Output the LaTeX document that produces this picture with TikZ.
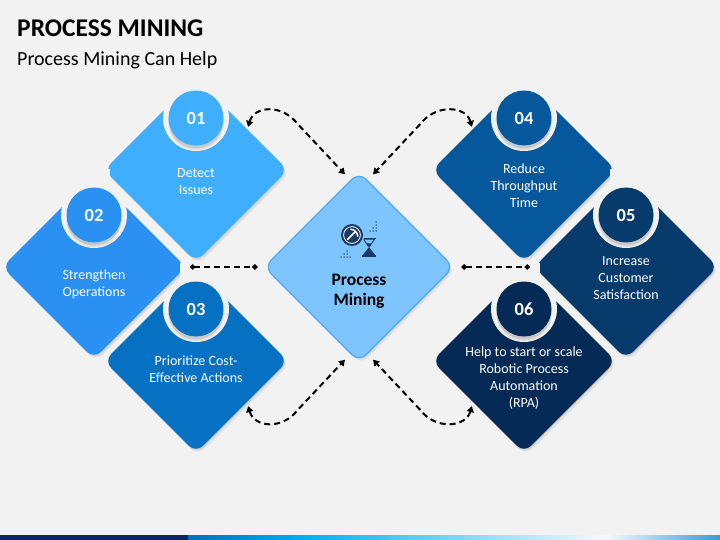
\documentclass[tikz,border=0pt]{standalone}
\usepackage{fontspec}
\setmainfont{Carlito}
\usetikzlibrary{shapes.geometric,arrows.meta,calc,shadows}
\definecolor{bg}{HTML}{F2F2F2}
\definecolor{cA}{RGB}{63,174,253}
\definecolor{cB}{RGB}{42,145,242}
\definecolor{cC}{RGB}{6,113,195}
\definecolor{cD}{RGB}{6,88,157}
\definecolor{cE}{RGB}{6,59,108}
\definecolor{cF}{RGB}{4,42,85}
\definecolor{cfill}{HTML}{7EC4FF}
\definecolor{cborder}{HTML}{4FABF3}
\definecolor{icon}{HTML}{183A63}
\definecolor{barnavy}{HTML}{0A2463}
\definecolor{barA}{HTML}{0070C0}
\definecolor{barB}{HTML}{00B0F0}
\definecolor{barC}{HTML}{F4FAFE}
\definecolor{barD}{HTML}{3A9AD9}
\tikzset{
  softshadow/.style={drop shadow={shadow xshift=1pt, shadow yshift=-1.5pt, opacity=0.18},
                     drop shadow={shadow xshift=2pt, shadow yshift=-3pt, opacity=0.12}},
  dia/.style={diamond, minimum size=184pt, inner sep=0pt, rounded corners=10pt, softshadow},
  notch/.style={circle, minimum size=66pt, inner sep=0pt, fill=bg},
  numc/.style={circle, minimum size=55pt, inner sep=0pt, text=white,
    font=\bfseries\fontsize{18.5}{18}\selectfont,
    drop shadow={shadow xshift=0pt, shadow yshift=-3pt, opacity=0.25},
    drop shadow={shadow xshift=0pt, shadow yshift=-5pt, opacity=0.15}},
  txt/.style={align=center, text=white, inner sep=0pt, font=\fontsize{14}{17}\selectfont},
  conn/.style={line width=2pt, dash pattern=on 6pt off 4pt, black},
  tipA/.style={{Triangle[length=6pt,width=7pt]}-{Triangle[length=6pt,width=7pt]}},
  tipD/.style={{Circle[length=5pt]}-{Circle[length=5pt]}}
}
\begin{document}
\begin{tikzpicture}[x=1pt,y=-1pt]
\useasboundingbox (0,0) rectangle (720,540);
\fill[bg] (0,0) rectangle (720,540);

% diamonds
\node[dia, fill=cA] (d1) at (196,170) {};
\node[dia, fill=cB] (d2) at (94,267) {};
\node[dia, fill=cC] (d3) at (196,361) {};
\node[dia, fill=cD] (d4) at (524,170) {};
\node[dia, fill=cE] (d5) at (626,267) {};
\node[dia, fill=cF] (d6) at (524,361) {};
\node[diamond, minimum size=190pt, inner sep=0pt, rounded corners=10pt, fill=cfill, draw=cborder, line width=1.3pt,
  softshadow] (c) at (359,267) {};

% notches and number circles
\foreach \n/\x/\y/\col in {1/196/118/cA, 2/94/215/cB, 3/196/309/cC, 4/524/118/cD, 5/626/215/cE, 6/524/309/cF}{
  \fill[bg] (\x-16,\y-46) rectangle (\x+16,\y-24);
  \node[notch] (k\n) at (\x,\y) {};
  \node[numc, fill=\col] (n\n) at (\x,\y) {0\n};
}

% title
\node[anchor=base west, inner sep=0pt, font=\bfseries\fontsize{25.5}{28}\selectfont] (title) at (17,37) {PROCESS MINING};
\node[anchor=base west, inner sep=0pt, font=\fontsize{20}{24}\selectfont] (sub) at (17,66) {Process Mining Can Help};

% texts
\node[txt] (t1) at (196,182) {Detect\\Issues};
\node[txt] (t2) at (94,284) {Strengthen\\Operations};
\node[txt] (t3) at (196,369) {Prioritize Cost-\\Effective Actions};
\node[txt] (t4) at (524,186) {Reduce\\Throughput\\Time};
\node[txt] (t5) at (626,278) {Increase\\Customer\\Satisfaction};
\node[txt] (t6) at (524,378) {Help to start or scale\\Robotic Process\\Automation\\(RPA)};
\node[align=center, inner sep=0pt, font=\bfseries\fontsize{17.5}{20}\selectfont] (ct) at (359,291) {Process\\Mining};

% icon
\begin{scope}[shift={(369,247)}]
  \fill[icon] (-7,-9.5) rectangle (7,-7.8);
  \fill[icon] (-7,7.8) rectangle (7,9.5);
  \draw[icon, line width=0.9pt, line join=round] (-5.5,-7.8) -- (5.5,-7.8) -- (0.8,-0.8) -- (-0.8,-0.8) -- cycle;
  \fill[icon] (-2.6,-3.6) -- (2.6,-3.6) -- (0,0) -- cycle;
  \fill[icon] (0,0) -- (6,7.8) -- (-6,7.8) -- cycle;
\end{scope}
\begin{scope}[shift={(352,235)}]
  \fill[cfill] (0,0) circle (12.5);
  \fill[icon] (0,0) circle (11);
  \draw[white, line width=0.8pt] (0,0) circle (8.4);
  \draw[white, line width=1.5pt, line cap=round] (-4.6,4.6) -- (3.4,-3.4);
  \draw[white, line width=1.5pt, line cap=round] (-1.2,-5.8) .. controls (2.8,-5.2) and (5.2,-2.8) .. (5.8,1.2);
\end{scope}
\foreach \px/\py in {376/222,376/225,376/228,376/231,373/228,373/231,370/231,
                     341/257,344/257,347/257,350/257,344/254,347/254,347/251}{
  \fill[icon] (\px,\py) circle (0.75);
}

% connectors
\draw[conn, tipA] ($(d1.north east)+(6,3)$) .. controls +(6,-21) and +(-16,-21) .. ($(c.north)+(-61,-47)$) -- ($(c.north)+(-14,3)$);
\draw[conn, tipA] ($(d4.north west)+(-6,3)$) .. controls +(-6,-21) and +(16,-21) .. ($(c.north)+(61,-47)$) -- ($(c.north)+(14,3)$);
\draw[conn, tipA] ($(d3.south east)+(6,-1)$) .. controls +(6,21) and +(-16,21) .. ($(c.south)+(-61,47)$) -- ($(c.south)+(-14,-3)$);
\draw[conn, tipA] ($(d6.south west)+(-6,-1)$) .. controls +(-6,21) and +(16,21) .. ($(c.south)+(61,47)$) -- ($(c.south)+(14,-3)$);
\draw[conn, tipD] ($(d2.east)+(4,0)$) -- ($(c.west)+(-6,0)$);
\draw[conn, tipD] ($(c.east)+(7,0)$) -- ($(d5.west)+(-4,0)$);

% bottom bar
\fill[barnavy] (0,535) rectangle (188,540);
\shade[left color=barA, right color=barB] (188,535) rectangle (301,540);
\shade[left color=barB, right color=barC] (301,535) rectangle (606,540);
\shade[left color=barC, right color=barD] (606,535) rectangle (720,540);
\end{tikzpicture}
\end{document}
